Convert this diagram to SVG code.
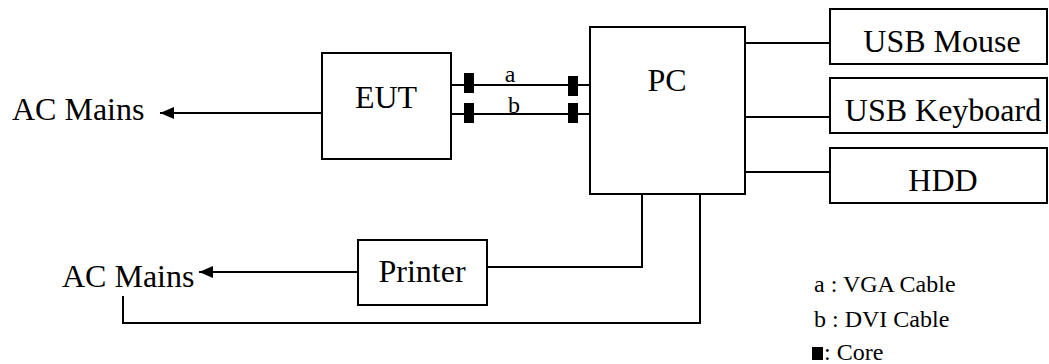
<svg xmlns="http://www.w3.org/2000/svg" width="1049" height="364" viewBox="0 0 1049 364">
<style>
.box{fill:#fff;stroke:#000;stroke-width:2}
.ln{fill:none;stroke:#000;stroke-width:2}
.t{font-family:"Liberation Serif","Times New Roman",serif;font-size:32px;fill:#000}
.s{font-family:"Liberation Serif","Times New Roman",serif;font-size:24px;fill:#000}
.core{fill:#000}
</style>
<defs>
<marker id="arr" markerWidth="14" markerHeight="12" refX="14" refY="6" orient="auto" markerUnits="userSpaceOnUse">
<path d="M0,0 L14,6 L0,12 Z" fill="#000"/>
</marker>
</defs>
<rect width="1049" height="364" fill="#fff"/>
<g id="connectors">
<line class="ln" x1="322" y1="113" x2="160" y2="113" marker-end="url(#arr)"/>
<line class="ln" x1="451" y1="85" x2="590" y2="85"/>
<line class="ln" x1="451" y1="114" x2="590" y2="114"/>
<line class="ln" x1="745" y1="43" x2="830" y2="43"/>
<line class="ln" x1="745" y1="117" x2="830" y2="117"/>
<line class="ln" x1="745" y1="172" x2="830" y2="172"/>
<polyline class="ln" points="642,194 642,267 487,267"/>
<line class="ln" x1="358" y1="272" x2="199" y2="272" marker-end="url(#arr)"/>
<polyline class="ln" points="700,194 700,323 123,323 123,296"/>
<rect class="core" x="464" y="73" width="10" height="20"/>
<rect class="core" x="464" y="103" width="10" height="20"/>
<rect class="core" x="568" y="76" width="10" height="20"/>
<rect class="core" x="568" y="103" width="10" height="20"/>
<text class="s" x="510" y="82" text-anchor="middle">a</text>
<text class="s" x="514" y="113" text-anchor="middle">b</text>
</g>
<g id="acmains1"><text class="t" x="12" y="120">AC Mains</text></g>
<g id="eut"><rect class="box" x="322" y="53" width="129" height="106"/><text class="t" x="386" y="108" text-anchor="middle">EUT</text></g>
<g id="pc"><rect class="box" x="590" y="27" width="155" height="167"/><text class="t" x="667" y="91" text-anchor="middle">PC</text></g>
<g id="mouse"><rect class="box" x="830" y="9" width="217" height="55"/><text class="t" x="942" y="52" text-anchor="middle">USB Mouse</text></g>
<g id="keyboard"><rect class="box" x="830" y="78" width="217" height="55"/><text class="t" x="943" y="121" text-anchor="middle">USB Keyboard</text></g>
<g id="hdd"><rect class="box" x="830" y="148" width="217" height="55"/><text class="t" x="943" y="191" text-anchor="middle">HDD</text></g>
<g id="printer"><rect class="box" x="358" y="240" width="129" height="65"/><text class="t" x="422" y="282" text-anchor="middle">Printer</text></g>
<g id="acmains2"><text class="t" x="62" y="287">AC Mains</text></g>
<g id="legend">
<text class="s" x="814" y="292">a : VGA Cable</text>
<text class="s" x="814" y="327">b : DVI Cable</text>
<rect class="core" x="812" y="347" width="11" height="13"/>
<text class="s" x="824" y="360">: Core</text>
</g>
</svg>
